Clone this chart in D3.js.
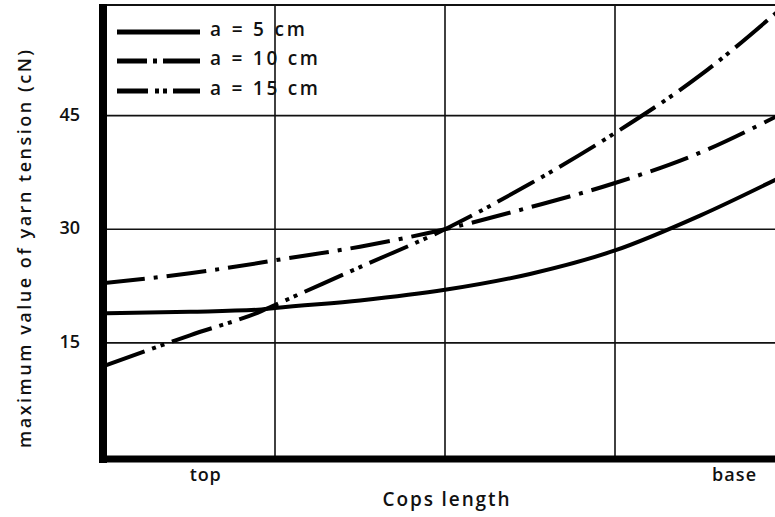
<!DOCTYPE html>
<html>
<head>
<meta charset="utf-8">
<script src="https://cdn.jsdelivr.net/npm/d3@7"></script>
<style>
  html, body { margin: 0; padding: 0; background: #fff; }
  svg text { font-family: "Open Sans", "Lato", sans-serif; font-weight: 600; fill: #111; }
</style>
</head>
<body>
<svg id="chart" width="775" height="517"></svg>
<script>
// cops length positions (0 = top, 4 = base)
const copsPos = [0, 0.5, 0.92, 1, 1.5, 2, 2.5, 3, 3.5, 3.95];
// maximum value of yarn tension (cN) for each ring distance
const tensionA5  = [18.9, 19.1, 19.4, 19.6, 20.6, 22.0, 24.1, 27.2, 31.8, 36.6];
const tensionA10 = [22.9, 24.2, 25.6, 25.9, 27.7, 30.0, 32.9, 36.1, 40.1, 44.9];
const tensionA15 = [12.0, 16.0, 19.2, 20.0, 25.0, 30.0, 36.0, 42.7, 50.3, 58.6];

const yTicks = [15, 30, 45];
const xGrid = [1, 2, 3];
const xLabels = [{ pos: 0.59, text: "top", w: 31 }, { pos: 3.7, text: "base", w: 44 }];
const legendLabels = ["a = 5 cm", "a = 10 cm", "a = 15 cm"];

const series = [
  { name: legendLabels[0], values: tensionA5,  dash: null,           legendDash: null,              tw: 95 },
  { name: legendLabels[1], values: tensionA10, dash: "40 9 4 9",     legendDash: "30 6 4 6 40",     tw: 108 },
  { name: legendLabels[2], values: tensionA15, dash: "42 8 4 5 4 8", legendDash: "31 7 4 4 4 6 40", tw: 108 }
];

const svg = d3.select("#chart");

const x = d3.scaleLinear().domain([0, 4]).range([105, 785]);
const y = d3.scaleLinear().domain([0, 59.6]).range([456.5, 5]);

// grid
const grid = svg.append("g").attr("stroke", "#111").attr("stroke-width", 1.6);
grid.selectAll("line.h").data(yTicks).join("line")
  .attr("x1", 104).attr("x2", 775)
  .attr("y1", d => y(d)).attr("y2", d => y(d));
grid.selectAll("line.v").data(xGrid).join("line")
  .attr("x1", d => x(d)).attr("x2", d => x(d))
  .attr("y1", 5).attr("y2", 459);
// top frame line
grid.append("line").attr("x1", 100).attr("x2", 775).attr("y1", 5).attr("y2", 5).attr("stroke-width", 2.2);

// thick axes
svg.append("line").attr("x1", 103).attr("x2", 103).attr("y1", 4).attr("y2", 463)
  .attr("stroke", "#000").attr("stroke-width", 8);
svg.append("line").attr("x1", 99).attr("x2", 775).attr("y1", 459).attr("y2", 459)
  .attr("stroke", "#000").attr("stroke-width", 7);

// y tick labels
svg.selectAll("text.ytick").data(yTicks).join("text")
  .attr("class", "ytick")
  .attr("x", 80).attr("y", d => y(d) + 5)
  .attr("text-anchor", "end")
  .attr("font-size", 18)
  .text(d => d);

// x labels
svg.selectAll("text.xlab").data(xLabels).join("text")
  .attr("class", "xlab")
  .attr("x", d => x(d.pos)).attr("y", 481)
  .attr("text-anchor", "middle")
  .attr("font-size", 18)
  .attr("textLength", d => d.w)
  .attr("lengthAdjust", "spacing")
  .text(d => d.text);

svg.append("text")
  .attr("x", 446).attr("y", 506)
  .attr("text-anchor", "middle")
  .attr("font-size", 19)
  .attr("textLength", 127)
  .attr("lengthAdjust", "spacing")
  .text("Cops length");

svg.append("text")
  .attr("transform", "translate(31,249) rotate(-90)")
  .attr("text-anchor", "middle")
  .attr("font-size", 18)
  .attr("textLength", 398)
  .attr("lengthAdjust", "spacing")
  .text("maximum value of yarn tension (cN)");

// curves
const line = d3.line()
  .x((d, i) => x(copsPos[i]))
  .y(d => y(d))
  .curve(d3.curveMonotoneX);

svg.append("defs").append("clipPath").attr("id", "plot")
  .append("rect").attr("x", 107).attr("y", 0).attr("width", 668).attr("height", 456);

svg.append("g").attr("clip-path", "url(#plot)")
  .selectAll("path").data(series).join("path")
  .attr("d", d => line(d.values))
  .attr("fill", "none")
  .attr("stroke", "#000")
  .attr("stroke-width", 4)
  .attr("stroke-dasharray", d => d.dash);

// legend
const legend = svg.append("g");
const rowY = [32, 61, 91];
series.forEach((s, i) => {
  legend.append("line")
    .attr("x1", 117).attr("x2", 200)
    .attr("y1", rowY[i]).attr("y2", rowY[i])
    .attr("stroke", "#000").attr("stroke-width", 5)
    .attr("stroke-dasharray", s.legendDash);
  legend.append("text")
    .attr("x", 210).attr("y", rowY[i] + 4)
    .attr("font-size", 19)
    .attr("textLength", s.tw)
    .attr("lengthAdjust", "spacing")
    .text(s.name);
});
</script>
</body>
</html>
